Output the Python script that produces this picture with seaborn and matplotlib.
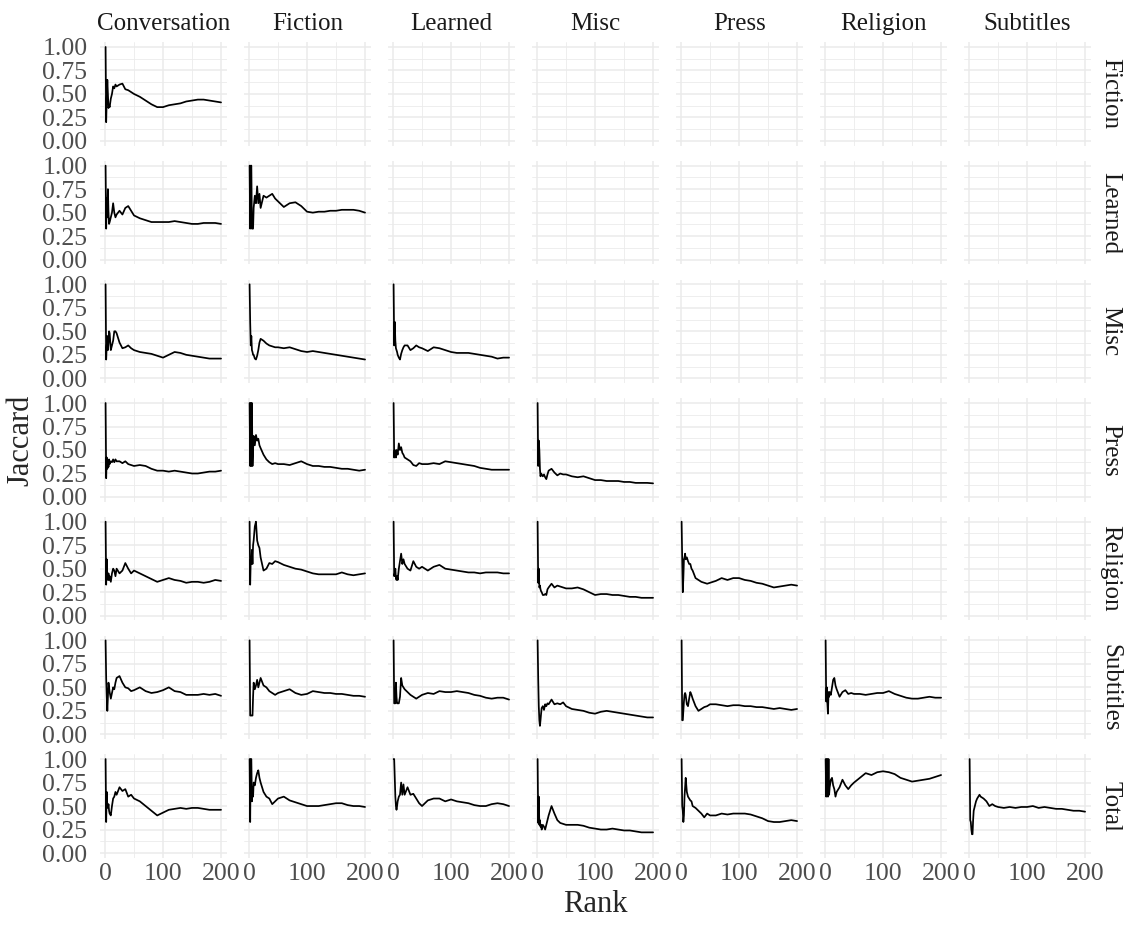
import numpy as np
import pandas as pd
import matplotlib
matplotlib.use("Agg")
import matplotlib.pyplot as plt
import seaborn as sns
from matplotlib.ticker import MultipleLocator, FormatStrFormatter

# =============================
# DATA
# =============================
RANKS = [1, 2, 3, 4, 5, 6, 7, 8, 10, 12, 14, 16, 18, 20, 25, 30, 35, 40, 45, 50,
         60, 70, 80, 90, 100, 110, 120, 130, 140, 150, 160, 170, 180, 190, 200]

ROW_GENRES = ["Fiction", "Learned", "Misc", "Press", "Religion", "Subtitles", "Total"]
COL_GENRES = ["Conversation", "Fiction", "Learned", "Misc", "Press", "Religion", "Subtitles"]

# row: Fiction
fic_conv = [1.0, 0.2, 0.45, 0.65, 0.5, 0.35, 0.38, 0.36, 0.45, 0.5, 0.58, 0.56, 0.6, 0.58, 0.6, 0.61, 0.55, 0.54, 0.52, 0.5,
            0.47, 0.43, 0.39, 0.36, 0.36, 0.38, 0.39, 0.4, 0.42, 0.43, 0.44, 0.44, 0.43, 0.42, 0.41]

# row: Learned
lea_conv = [1.0, 0.33, 0.65, 0.45, 0.75, 0.5, 0.38, 0.4, 0.45, 0.5, 0.6, 0.5, 0.45, 0.48, 0.52, 0.48, 0.55, 0.57, 0.52, 0.47,
            0.44, 0.42, 0.4, 0.4, 0.4, 0.4, 0.41, 0.4, 0.39, 0.38, 0.38, 0.39, 0.39, 0.39, 0.38]
lea_fic = [1.0, 0.33, 1.0, 1.0, 0.33, 0.33, 0.33, 0.55, 0.68, 0.6, 0.78, 0.6, 0.7, 0.55, 0.68, 0.66, 0.68, 0.7, 0.65, 0.62,
           0.56, 0.6, 0.61, 0.57, 0.51, 0.5, 0.51, 0.51, 0.52, 0.52, 0.53, 0.53, 0.53, 0.52, 0.5]

# row: Misc
mis_conv = [1.0, 0.2, 0.35, 0.45, 0.3, 0.38, 0.5, 0.48, 0.3, 0.35, 0.4, 0.5, 0.5, 0.48, 0.38, 0.32, 0.33, 0.35, 0.32, 0.3,
            0.28, 0.27, 0.26, 0.24, 0.22, 0.25, 0.28, 0.27, 0.25, 0.24, 0.23, 0.22, 0.21, 0.21, 0.21]
mis_fic = [1.0, 0.6, 0.35, 0.45, 0.3, 0.28, 0.25, 0.25, 0.21, 0.2, 0.24, 0.3, 0.38, 0.42, 0.4, 0.37, 0.35, 0.34, 0.33, 0.33,
           0.32, 0.33, 0.31, 0.29, 0.28, 0.29, 0.28, 0.27, 0.26, 0.25, 0.24, 0.23, 0.22, 0.21, 0.2]
mis_lea = [1.0, 0.35, 0.6, 0.4, 0.32, 0.3, 0.28, 0.25, 0.22, 0.2, 0.26, 0.3, 0.33, 0.35, 0.35, 0.3, 0.32, 0.35, 0.33, 0.32,
           0.29, 0.33, 0.32, 0.3, 0.28, 0.27, 0.27, 0.27, 0.26, 0.25, 0.24, 0.23, 0.21, 0.22, 0.22]

# row: Press
pre_conv = [1.0, 0.2, 0.42, 0.3, 0.38, 0.32, 0.4, 0.35, 0.38, 0.37, 0.4, 0.37, 0.4, 0.38, 0.38, 0.36, 0.38, 0.35, 0.34, 0.33,
            0.34, 0.33, 0.3, 0.28, 0.28, 0.27, 0.28, 0.27, 0.26, 0.25, 0.25, 0.26, 0.27, 0.27, 0.28]
pre_fic = [1.0, 0.33, 1.0, 0.33, 1.0, 0.33, 0.5, 0.65, 0.55, 0.66, 0.6, 0.62, 0.55, 0.52, 0.45, 0.4, 0.37, 0.35, 0.36, 0.35,
           0.35, 0.34, 0.36, 0.38, 0.35, 0.33, 0.33, 0.32, 0.32, 0.31, 0.3, 0.3, 0.29, 0.28, 0.29]
pre_lea = [1.0, 0.42, 0.5, 0.45, 0.42, 0.5, 0.48, 0.45, 0.57, 0.5, 0.53, 0.47, 0.45, 0.42, 0.4, 0.38, 0.34, 0.33, 0.36, 0.35,
           0.35, 0.36, 0.35, 0.38, 0.37, 0.36, 0.35, 0.34, 0.33, 0.31, 0.3, 0.29, 0.29, 0.29, 0.29]
pre_mis = [1.0, 0.33, 0.6, 0.5, 0.3, 0.22, 0.25, 0.24, 0.22, 0.24, 0.21, 0.19, 0.24, 0.28, 0.3, 0.26, 0.23, 0.25, 0.24, 0.24,
           0.22, 0.21, 0.22, 0.2, 0.18, 0.18, 0.17, 0.17, 0.17, 0.16, 0.16, 0.15, 0.15, 0.15, 0.145]

# row: Religion
rel_conv = [1.0, 0.33, 0.6, 0.42, 0.38, 0.45, 0.38, 0.42, 0.36, 0.45, 0.5, 0.48, 0.42, 0.5, 0.45, 0.48, 0.56, 0.5, 0.45, 0.48,
            0.45, 0.42, 0.39, 0.36, 0.38, 0.4, 0.38, 0.37, 0.35, 0.36, 0.36, 0.35, 0.36, 0.38, 0.37]
rel_fic = [1.0, 0.33, 0.6, 0.55, 0.7, 0.55, 0.75, 0.8, 0.95, 1.0, 0.8, 0.75, 0.72, 0.62, 0.48, 0.5, 0.56, 0.55, 0.58, 0.57,
           0.54, 0.52, 0.5, 0.49, 0.47, 0.45, 0.44, 0.44, 0.44, 0.44, 0.46, 0.44, 0.43, 0.44, 0.45]
rel_lea = [1.0, 0.42, 0.45, 0.5, 0.4, 0.38, 0.42, 0.38, 0.5, 0.58, 0.66, 0.55, 0.6, 0.55, 0.5, 0.48, 0.58, 0.52, 0.5, 0.52,
           0.48, 0.52, 0.54, 0.5, 0.49, 0.48, 0.47, 0.46, 0.46, 0.45, 0.46, 0.46, 0.46, 0.45, 0.45]
rel_mis = [1.0, 0.35, 0.5, 0.3, 0.32, 0.28, 0.26, 0.25, 0.22, 0.22, 0.23, 0.22, 0.28, 0.3, 0.34, 0.3, 0.32, 0.31, 0.3, 0.29,
           0.29, 0.3, 0.28, 0.25, 0.22, 0.23, 0.23, 0.22, 0.22, 0.21, 0.2, 0.2, 0.19, 0.19, 0.19]
rel_pre = [1.0, 0.6, 0.25, 0.4, 0.6, 0.62, 0.66, 0.6, 0.62, 0.58, 0.55, 0.55, 0.5, 0.48, 0.4, 0.38, 0.36, 0.35, 0.34, 0.35,
           0.37, 0.4, 0.38, 0.4, 0.4, 0.38, 0.37, 0.35, 0.34, 0.32, 0.3, 0.31, 0.32, 0.33, 0.32]

# row: Subtitles
sub_conv = [1.0, 0.6, 0.4, 0.25, 0.4, 0.55, 0.5, 0.45, 0.38, 0.44, 0.5, 0.48, 0.55, 0.6, 0.62, 0.55, 0.5, 0.49, 0.46, 0.47,
            0.5, 0.46, 0.44, 0.45, 0.47, 0.5, 0.46, 0.45, 0.42, 0.42, 0.42, 0.43, 0.42, 0.43, 0.41]
sub_fic = [1.0, 0.2, 0.2, 0.2, 0.2, 0.2, 0.4, 0.55, 0.48, 0.52, 0.58, 0.5, 0.55, 0.6, 0.52, 0.5, 0.46, 0.44, 0.42, 0.44,
           0.46, 0.48, 0.44, 0.42, 0.43, 0.46, 0.45, 0.44, 0.44, 0.43, 0.43, 0.42, 0.41, 0.41, 0.4]
sub_lea = [1.0, 0.33, 0.33, 0.33, 0.55, 0.4, 0.33, 0.33, 0.33, 0.4, 0.6, 0.52, 0.5, 0.48, 0.45, 0.42, 0.4, 0.38, 0.4, 0.42,
           0.44, 0.43, 0.46, 0.45, 0.45, 0.46, 0.45, 0.44, 0.42, 0.41, 0.39, 0.38, 0.39, 0.39, 0.37]
sub_mis = [1.0, 0.6, 0.3, 0.15, 0.09, 0.15, 0.22, 0.28, 0.3, 0.26, 0.32, 0.3, 0.33, 0.32, 0.37, 0.32, 0.33, 0.32, 0.34, 0.3,
           0.27, 0.26, 0.25, 0.23, 0.22, 0.24, 0.25, 0.24, 0.23, 0.22, 0.21, 0.2, 0.19, 0.18, 0.18]
sub_pre = [1.0, 0.15, 0.15, 0.25, 0.35, 0.42, 0.44, 0.42, 0.32, 0.3, 0.38, 0.45, 0.42, 0.38, 0.3, 0.25, 0.27, 0.29, 0.3, 0.32,
           0.32, 0.31, 0.3, 0.31, 0.31, 0.3, 0.3, 0.29, 0.29, 0.28, 0.27, 0.28, 0.27, 0.26, 0.27]
sub_rel = [1.0, 0.35, 0.5, 0.33, 0.22, 0.45, 0.4, 0.45, 0.42, 0.5, 0.58, 0.6, 0.52, 0.48, 0.4, 0.45, 0.47, 0.43, 0.44, 0.43,
           0.43, 0.42, 0.43, 0.44, 0.44, 0.46, 0.43, 0.41, 0.39, 0.38, 0.38, 0.39, 0.4, 0.39, 0.39]

# row: Total
tot_conv = [1.0, 0.33, 0.65, 0.5, 0.48, 0.52, 0.45, 0.42, 0.4, 0.5, 0.58, 0.6, 0.65, 0.62, 0.7, 0.66, 0.68, 0.6, 0.62, 0.58,
            0.55, 0.5, 0.45, 0.4, 0.43, 0.46, 0.47, 0.48, 0.47, 0.48, 0.48, 0.47, 0.46, 0.46, 0.46]
tot_fic = [1.0, 0.33, 1.0, 1.0, 0.55, 0.7, 0.6, 0.75, 0.72, 0.8, 0.85, 0.88, 0.8, 0.75, 0.65, 0.6, 0.58, 0.52, 0.55, 0.58,
           0.6, 0.56, 0.54, 0.52, 0.5, 0.5, 0.5, 0.51, 0.52, 0.53, 0.53, 0.51, 0.5, 0.5, 0.49]
tot_lea = [1.0, 1.0, 0.8, 0.6, 0.5, 0.46, 0.5, 0.55, 0.6, 0.62, 0.75, 0.62, 0.73, 0.62, 0.7, 0.62, 0.63, 0.58, 0.53, 0.5,
           0.56, 0.58, 0.58, 0.55, 0.57, 0.55, 0.54, 0.53, 0.51, 0.5, 0.5, 0.52, 0.53, 0.52, 0.5]
tot_mis = [1.0, 0.32, 0.6, 0.3, 0.35, 0.28, 0.3, 0.25, 0.3, 0.28, 0.25, 0.3, 0.35, 0.4, 0.5, 0.42, 0.35, 0.32, 0.31, 0.3,
           0.3, 0.3, 0.29, 0.27, 0.26, 0.25, 0.25, 0.26, 0.25, 0.24, 0.24, 0.23, 0.22, 0.22, 0.22]
tot_pre = [1.0, 0.5, 0.45, 0.33, 0.4, 0.6, 0.7, 0.8, 0.65, 0.6, 0.58, 0.56, 0.55, 0.5, 0.48, 0.45, 0.42, 0.38, 0.42, 0.4,
           0.4, 0.42, 0.41, 0.42, 0.42, 0.42, 0.41, 0.39, 0.37, 0.34, 0.33, 0.33, 0.34, 0.35, 0.34]
tot_rel = [1.0, 0.6, 1.0, 1.0, 0.6, 1.0, 0.62, 0.7, 0.78, 0.8, 0.72, 0.68, 0.6, 0.65, 0.7, 0.78, 0.72, 0.68, 0.72, 0.75,
           0.8, 0.85, 0.83, 0.86, 0.87, 0.86, 0.84, 0.8, 0.78, 0.76, 0.77, 0.78, 0.79, 0.81, 0.83]
tot_sub = [1.0, 0.35, 0.33, 0.25, 0.2, 0.2, 0.35, 0.45, 0.5, 0.55, 0.58, 0.6, 0.62, 0.6, 0.58, 0.55, 0.5, 0.52, 0.5, 0.49,
           0.48, 0.49, 0.48, 0.49, 0.49, 0.5, 0.48, 0.49, 0.48, 0.47, 0.47, 0.46, 0.45, 0.45, 0.44]

PAIRS = [
    ("Fiction", "Conversation", fic_conv),
    ("Learned", "Conversation", lea_conv), ("Learned", "Fiction", lea_fic),
    ("Misc", "Conversation", mis_conv), ("Misc", "Fiction", mis_fic), ("Misc", "Learned", mis_lea),
    ("Press", "Conversation", pre_conv), ("Press", "Fiction", pre_fic), ("Press", "Learned", pre_lea),
    ("Press", "Misc", pre_mis),
    ("Religion", "Conversation", rel_conv), ("Religion", "Fiction", rel_fic), ("Religion", "Learned", rel_lea),
    ("Religion", "Misc", rel_mis), ("Religion", "Press", rel_pre),
    ("Subtitles", "Conversation", sub_conv), ("Subtitles", "Fiction", sub_fic), ("Subtitles", "Learned", sub_lea),
    ("Subtitles", "Misc", sub_mis), ("Subtitles", "Press", sub_pre), ("Subtitles", "Religion", sub_rel),
    ("Total", "Conversation", tot_conv), ("Total", "Fiction", tot_fic), ("Total", "Learned", tot_lea),
    ("Total", "Misc", tot_mis), ("Total", "Press", tot_pre), ("Total", "Religion", tot_rel),
    ("Total", "Subtitles", tot_sub),
]

df = pd.concat([
    pd.DataFrame({"Rank": RANKS, "Jaccard": vals, "row": r, "col": c})
    for r, c, vals in PAIRS
], ignore_index=True)

# =============================
# STYLE
# =============================
sns.set_style("white")
plt.rcParams["font.family"] = ["Liberation Serif", "DejaVu Serif"]

W, H = 1133, 931

# =============================
# PLOT
# =============================
g = sns.relplot(
    data=df, x="Rank", y="Jaccard", row="row", col="col", kind="line",
    row_order=ROW_GENRES, col_order=COL_GENRES, estimator=None,
    color="black", linewidth=1.25, height=1.3, aspect=1.2,
    facet_kws=dict(sharex=True, sharey=True),
)
fig = g.figure
fig.set_size_inches(W / 100, H / 100)
fig.subplots_adjust(left=0.0881, right=0.9628, top=0.9546, bottom=0.0787,
                    wspace=0.134, hspace=0.148)

lo, hi = min(RANKS), max(RANKS)
xpad = 0.05 * (hi - lo)

for i, rname in enumerate(ROW_GENRES):
    for j, cname in enumerate(COL_GENRES):
        ax = g.axes[i, j]
        ax.set_xlim(lo - xpad, hi + xpad)
        ax.set_ylim(-0.05, 1.05)
        ax.xaxis.set_major_locator(MultipleLocator(100))
        ax.xaxis.set_minor_locator(MultipleLocator(50))
        ax.yaxis.set_major_locator(MultipleLocator(0.25))
        ax.yaxis.set_minor_locator(MultipleLocator(0.125))
        ax.yaxis.set_major_formatter(FormatStrFormatter("%.2f"))
        ax.xaxis.set_major_formatter(FormatStrFormatter("%d"))
        ax.set_axisbelow(True)
        ax.grid(which="major", color="#EBEBEB", linewidth=1.1)
        ax.grid(which="minor", color="#EBEBEB", linewidth=0.6)
        for s in ax.spines.values():
            s.set_visible(False)
        ax.tick_params(which="both", length=0, labelsize=18.5, labelcolor="#4D4D4D")
        ax.tick_params(axis="y", pad=9)
        ax.tick_params(axis="x", pad=4)
        ax.set_xlabel("")
        ax.set_ylabel("")
        ax.set_title("")
        if i == 0:
            ax.set_title(cname, fontsize=18, color="#1A1A1A", pad=9)
        if j == len(COL_GENRES) - 1:
            ax.annotate(rname, xy=(1, 0.5), xycoords="axes fraction",
                        xytext=(14, 0), textcoords="offset points",
                        rotation=-90, ha="center", va="center",
                        fontsize=18, color="#1A1A1A")

fig.text(595 / W, 1 - 905 / H, "Rank", ha="center", va="center", fontsize=22)
fig.text(21 / W, 1 - 440 / H, "Jaccard", ha="center", va="center",
         rotation=90, fontsize=22)

fig.savefig("out.png", dpi=100)
